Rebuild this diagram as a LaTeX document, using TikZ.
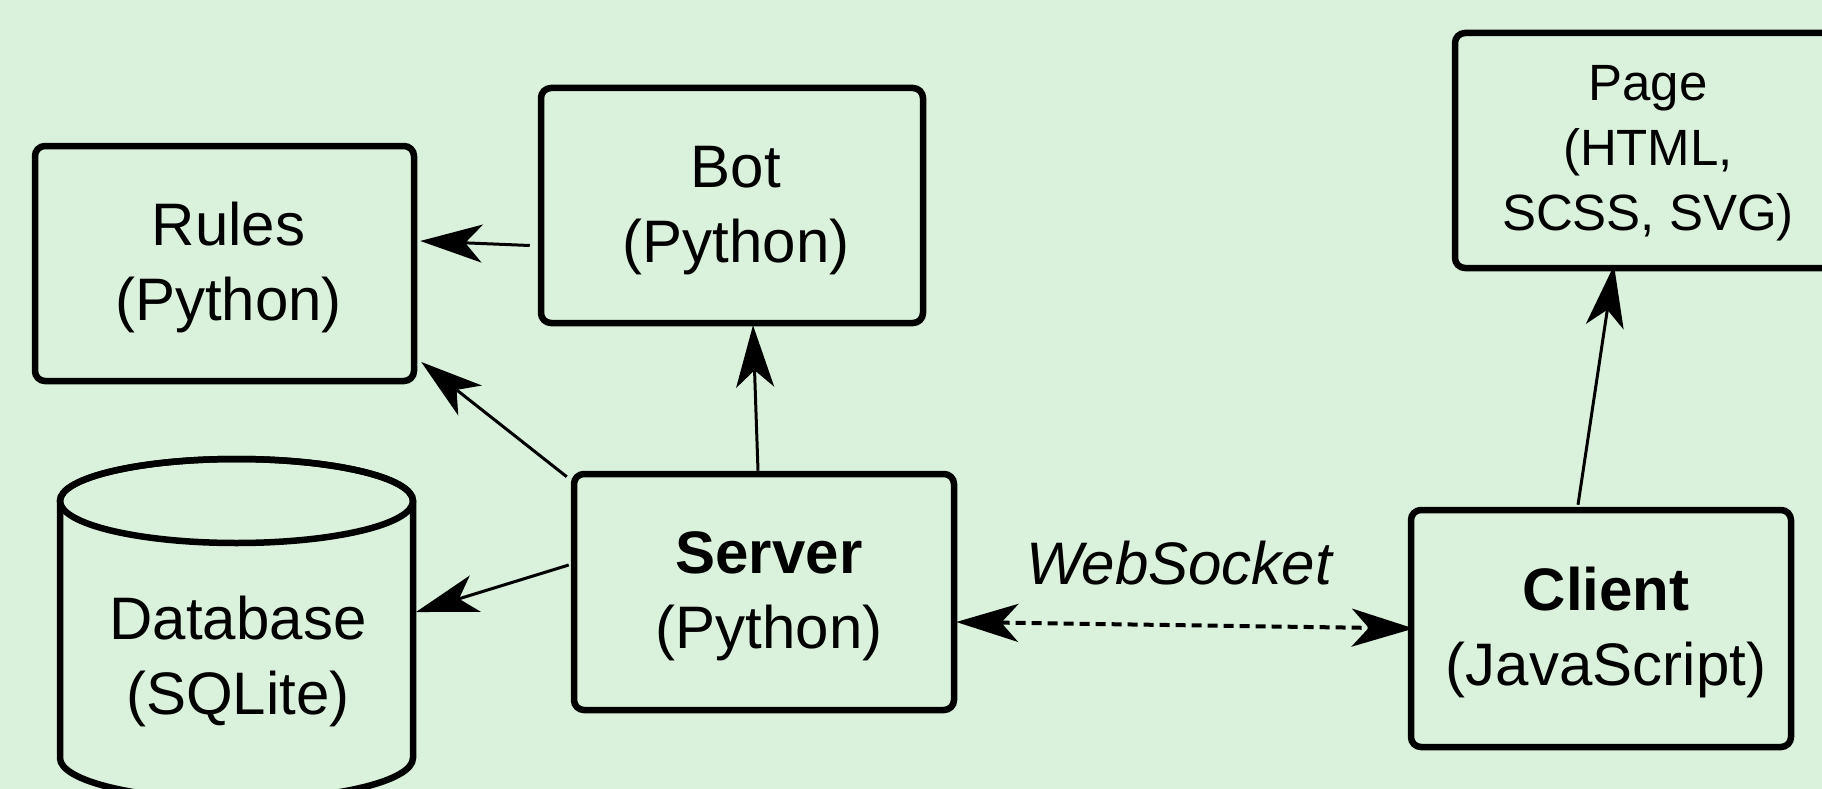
\documentclass[tikz,border=0pt]{standalone}
\usepackage{fontspec}
\setmainfont{Liberation Sans}
\usetikzlibrary{arrows.meta,calc}
\definecolor{bg}{RGB}{218,242,220}
\begin{document}
\begin{tikzpicture}[x=1pt,y=-1pt,
  box/.style={draw, line width=6.5pt, rounded corners=10pt, fill=bg, align=center, inner sep=0pt},
  big/.style={font=\fontsize{60pt}{75pt}\selectfont},
  small/.style={font=\fontsize{51pt}{65pt}\selectfont},
  conn/.style={line width=3pt, -{Stealth[length=62pt,width=38pt,inset=17pt]}},
  dconn/.style={line width=4pt, dash pattern=on 10pt off 6pt, {Stealth[length=62pt,width=38pt,inset=17pt]}-{Stealth[length=62pt,width=38pt,inset=17pt]}},
  txt/.style={align=center, inner sep=0pt},
]
\useasboundingbox (0,0) rectangle (1822,789);
\fill[bg] (0,0) rectangle (1822,789);
\clip (0,0) rectangle (1822,789);

% boxes
\node[box, minimum width=379pt, minimum height=235pt] (rules) at (224.5,263.5) {};
\node[box, minimum width=382pt, minimum height=235pt] (bot) at (732,205.5) {};
\node[box, minimum width=380pt, minimum height=236pt] (server) at (764,592) {};
\node[box, minimum width=380pt, minimum height=237pt] (client) at (1601,628.5) {};
\node[box, minimum width=386pt, minimum height=235pt] (page) at (1648,150.5) {};

% box texts
\node[txt, big] (rulesT) at ($(rules)+(4,4)$) {Rules\\(Python)};
\node[txt, big] (botT) at ($(bot)+(4,5)$) {Bot\\(Python)};
\node[txt, big] (serverT) at ($(server)+(5,4)$) {\textbf{Server}\\(Python)};
\node[txt, big] (clientT) at ($(client)+(5,4)$) {\textbf{Client}\\(JavaScript)};
\node[txt, small] (pageT) at ($(page)+(0,3)$) {Page\\(HTML,\\SCSS, SVG)};

% database cylinder
\draw[line width=6.5pt, fill=bg] (60,501) -- (60,758)
  arc[start angle=180, end angle=0, x radius=176.5, y radius=42]
  -- (413,501)
  arc[start angle=0, end angle=-180, x radius=176.5, y radius=42] -- cycle;
\draw[line width=6.5pt] (236.5,501) ellipse [x radius=176.5, y radius=42];
\node[txt, big] (db) at (238,661) {Database\\(SQLite)};
\coordinate (dbR) at (416,612);

% label
\node[font=\fontsize{60pt}{75pt}\selectfont\itshape] (ws) at (1179,563) {WebSocket};

% connectors
\draw[conn] ($(bot.west)+(-8,40)$) -- ($(rules.east)+(3,-22.5)$);
\draw[conn] ($(server.north west)+(-4,6)$) -- ($(rules.east)+(4,98.5)$);
\draw[conn] ($(server.west)+(-2,-27)$) -- (dbR);
\draw[conn] ($(server.north)+(-6,0)$) -- ($(bot.south)+(21,-1)$);
\draw[dconn] ($(server.east)+(-1,30)$) -- ($(client.west)+(6,0)$);
\draw[conn] ($(client.north)+(-23,-2)$) -- ($(page.south)+(-34,-6)$);
\end{tikzpicture}
\end{document}
